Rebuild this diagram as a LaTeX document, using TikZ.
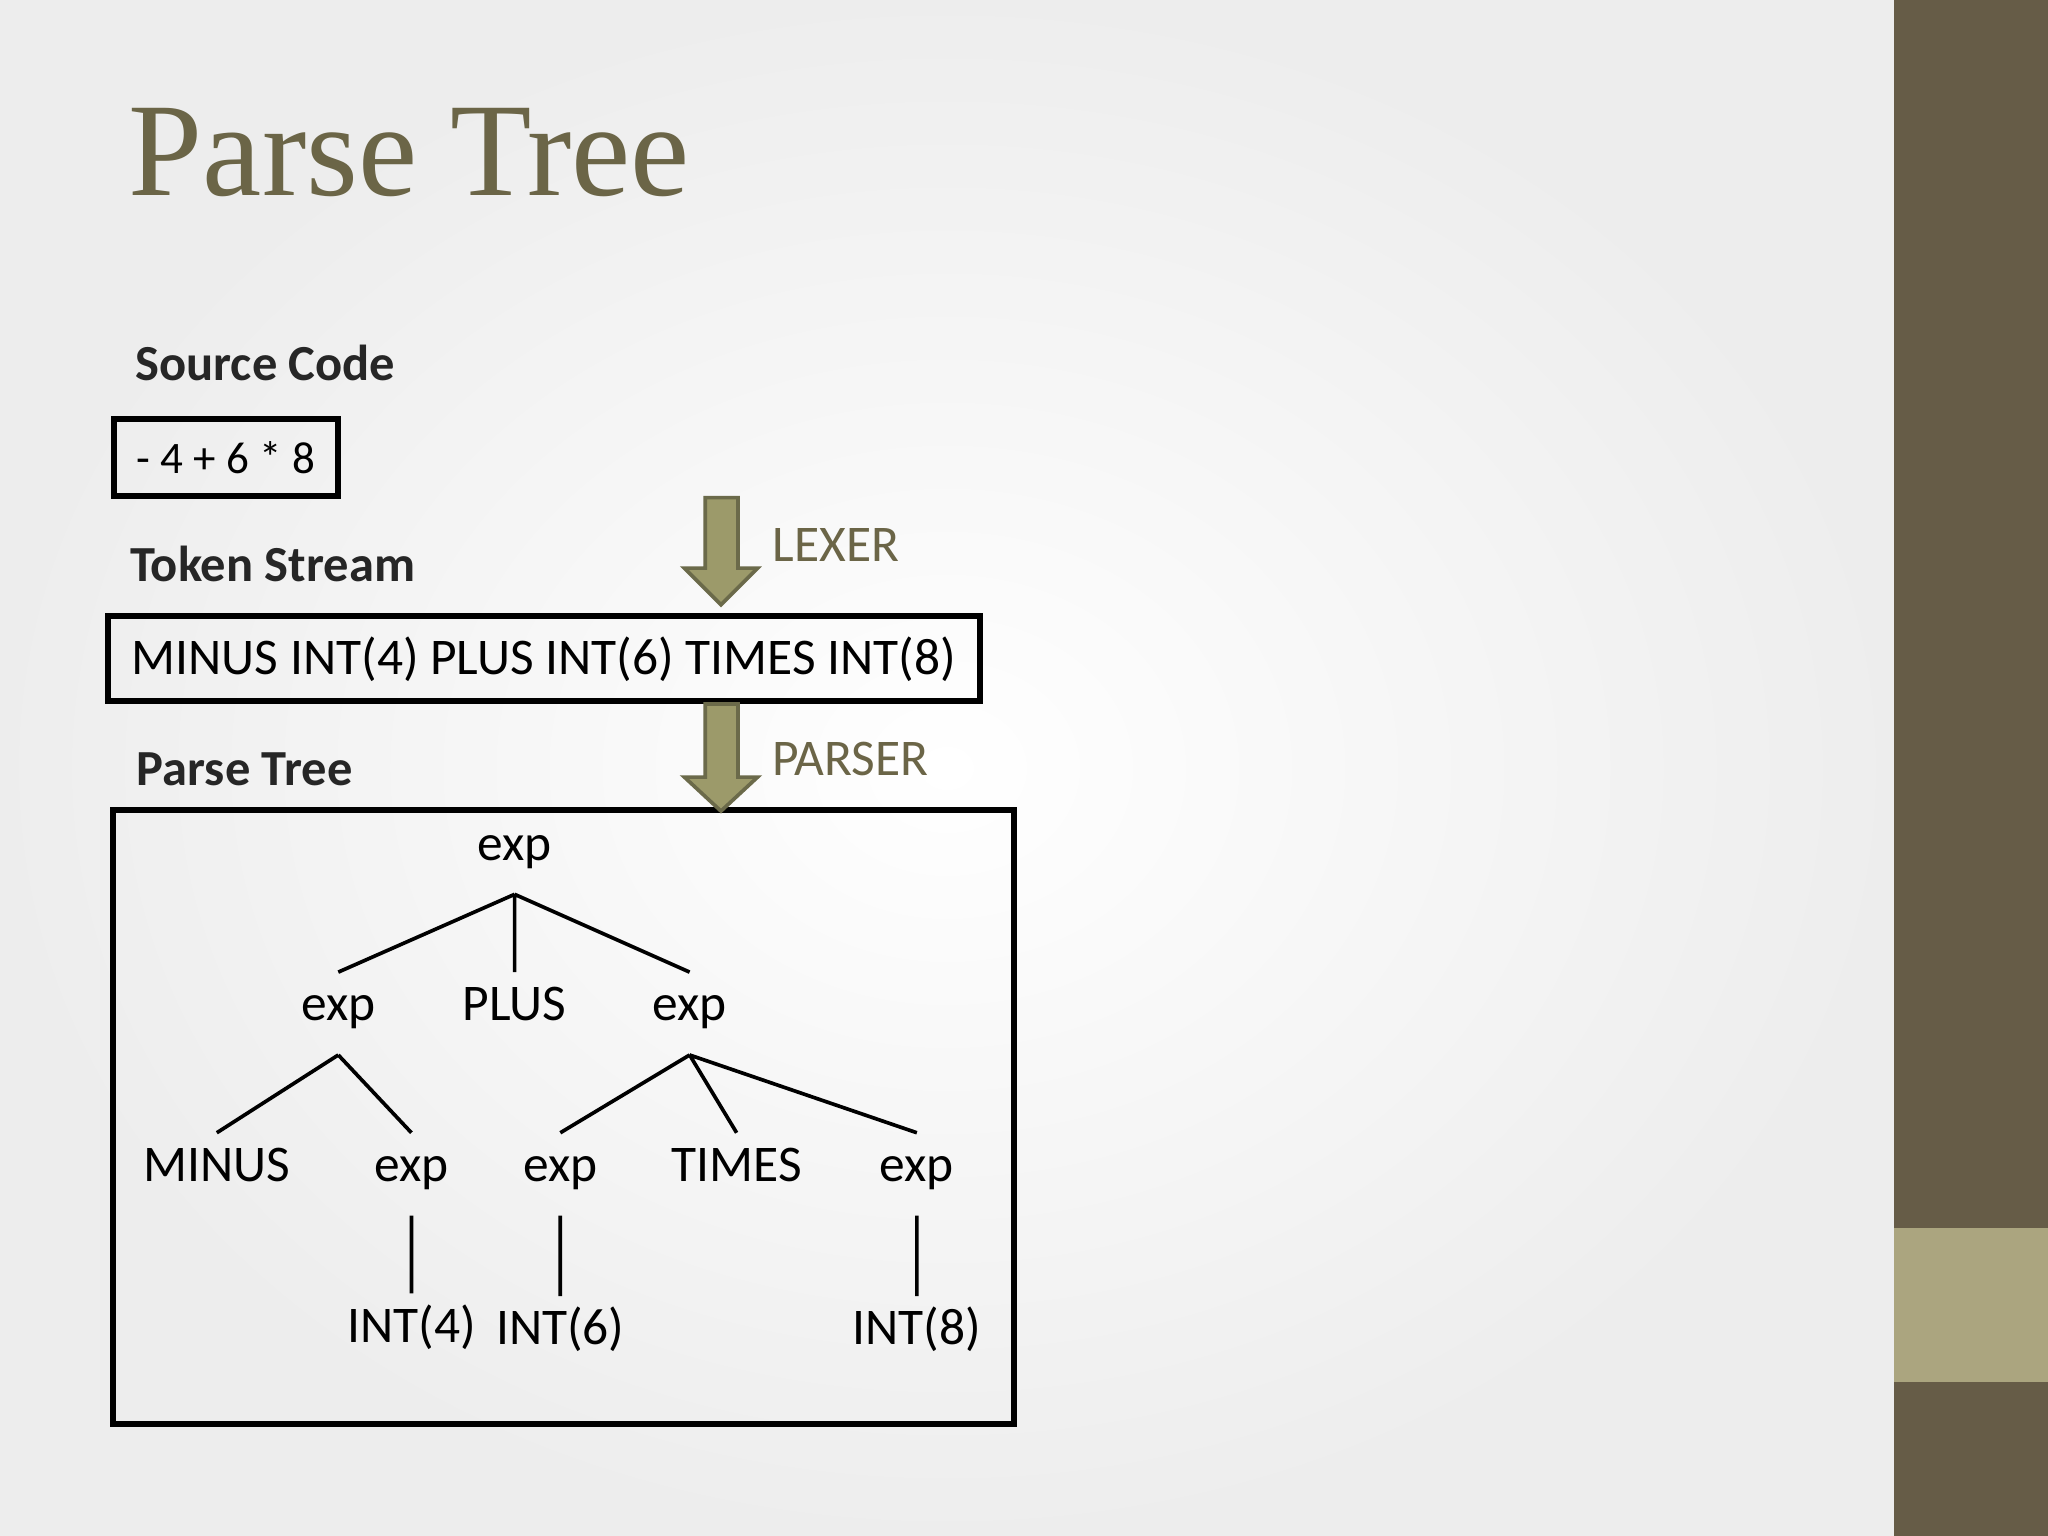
\documentclass[tikz,border=0pt]{standalone}
\usepackage{fontspec}
\setmainfont{Carlito}
\newfontfamily\titlefont{Liberation Serif}
\usetikzlibrary{calc}
\definecolor{barbrown}{HTML}{665C47}
\definecolor{barlight}{HTML}{ABA57F}
\definecolor{titlecol}{HTML}{6B6547}
\definecolor{arrowfill}{HTML}{9C9A6A}
\definecolor{arrowline}{HTML}{6B6A4A}
\tikzset{
	treenode/.style={minimum height=0.62cm, inner sep=0pt, text height=0.62em, text depth=0.3em, font=\fontsize{11.2}{13}\selectfont},
	heading/.style={anchor=west, inner sep=0pt, font=\bfseries\fontsize{11}{13}\selectfont, text=black!85},
	framebox/.style={draw, line width=1.3pt},
	stage/.style={text=titlecol, font=\fontsize{11.2}{13}\selectfont},
	blockarrow/.style={fill=arrowfill, draw=arrowline, line width=0.8pt}
}
\begin{document}
\begin{tikzpicture}[x=0.01cm, y=-0.01cm]
	%background
	\useasboundingbox (0,0) rectangle (1568,1176);
	\shade[inner color=white, outer color=black!7] (0,0) rectangle (1450,1176);
	\fill[barbrown] (1450,0) rectangle (1568,1176);
	\fill[barlight] (1450,940) rectangle (1568,1058);
	%title
	\node[anchor=base west, inner sep=0pt, text=titlecol, font=\titlefont\fontsize{29}{32}\selectfont] (title) at (98,150) {Parse Tree};
	%source code
	\node[heading] (srchead) at (103,278) {Source Code};
	\node[framebox, minimum width=1.72cm, minimum height=0.59cm, font=\fontsize{9.8}{12}\selectfont] (src) at (173,350.5) {- 4 + 6 * 8};
	%token stream
	\node[heading] (tokhead) at (99,432) {Token Stream};
	\node[framebox, minimum width=6.67cm, minimum height=0.65cm, font=\fontsize{11.2}{13}\selectfont] (tok) at (416.5,504.5) {MINUS INT(4) PLUS INT(6) TIMES INT(8)};
	%parse tree
	\node[heading] (treehead) at (104,589) {Parse Tree};
	\node[framebox, minimum width=6.89cm, minimum height=4.70cm] (treebox) at (431.5,855) {};
	%arrows
	\draw[blockarrow] (540,381) -- (565,381) -- (565,435) -- (580,435) -- (552,463) -- (524,435) -- (540,435) -- cycle;
	\draw[blockarrow] (540,539) -- (565,539) -- (565,595) -- (580,595) -- (552,621) -- (524,595) -- (540,595) -- cycle;
	\node[stage] (lexer) at (640,417) {LEXER};
	\node[stage] (parser) at (651,581) {PARSER};
	%tree nodes
	\node[treenode] (root) at (394,653) {exp};
	\node[treenode] (lexp) at (259,776) {exp};
	\node[treenode] (plus) at (394,776) {PLUS};
	\node[treenode] (rexp) at (528,776) {exp};
	\node[treenode] (minus) at (166,899) {MINUS};
	\node[treenode] (exp4) at (315,899) {exp};
	\node[treenode] (exp6) at (429,899) {exp};
	\node[treenode] (times) at (564,899) {TIMES};
	\node[treenode] (exp8) at (702,899) {exp};
	\node[treenode] (int4) at (315,1022) {INT(4)};
	\node[treenode] (int6) at (429,1024) {INT(6)};
	\node[treenode] (int8) at (702,1024) {INT(8)};
	%tree edges
	\draw[line width=0.8pt] (root.south) -- (lexp.north)
		(root.south) -- (plus.north)
		(root.south) -- (rexp.north)
		(lexp.south) -- (minus.north)
		(lexp.south) -- (exp4.north)
		(rexp.south) -- (exp6.north)
		(rexp.south) -- (times.north)
		(rexp.south) -- (exp8.north)
		(exp4.south) -- (int4.north)
		(exp6.south) -- (int6.north)
		(exp8.south) -- (int8.north);
\end{tikzpicture}
\end{document}
